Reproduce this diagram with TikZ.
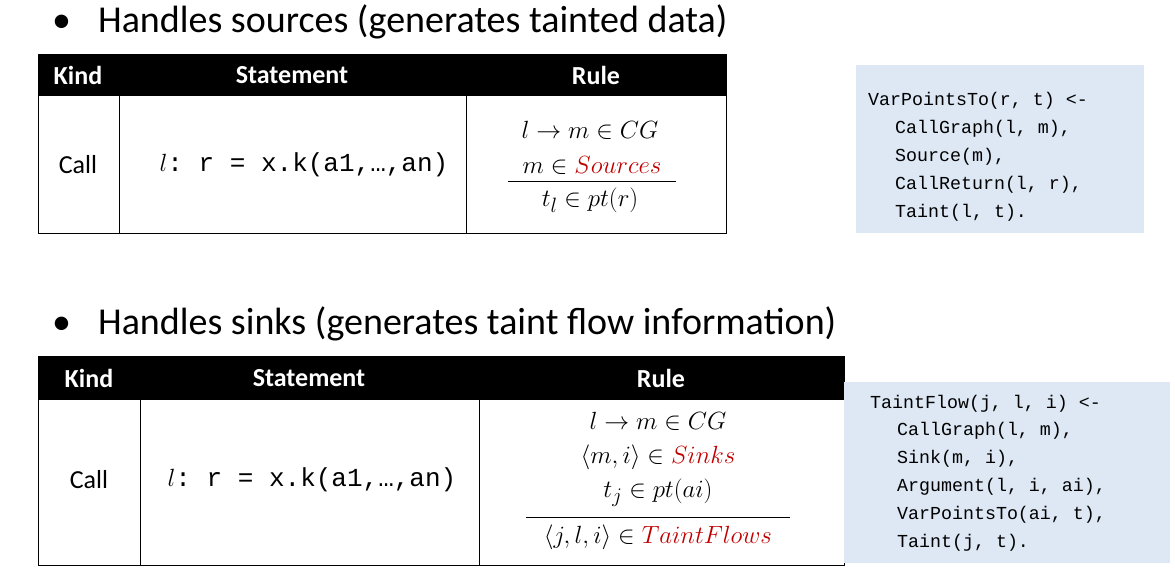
\documentclass[tikz,border=0pt]{standalone}
\usepackage{fontspec}
\usepackage{amsmath}
\setmainfont{Carlito}
\setmonofont{Liberation Mono}
\definecolor{rd}{HTML}{C00000}
\definecolor{bx}{HTML}{DDE8F4}
\begin{document}
\begin{tikzpicture}[x=1pt,y=-1pt,
 title/.style={anchor=west,font=\fontsize{38}{40}\selectfont,inner sep=0},
 hd/.style={text=white,font=\fontsize{26}{28}\selectfont\bfseries},
 cell/.style={font=\fontsize{26}{28}\selectfont},
 rl/.style={font=\fontsize{28}{30}\selectfont},
 code/.style={anchor=west,font=\fontsize{18.3}{19}\ttfamily,inner sep=0},
 grid/.style={line width=1pt}]
\useasboundingbox (0,0) rectangle (1175,576);
% titles
\node[title] (b1) at (52,22) {•\hspace{27pt}Handles sources (generates tainted data)};
\node[title] (b2) at (52,324) {•\hspace{27pt}Handles sinks (generates taint flow information)};
% table 1
\fill (38,54) rectangle (726,96);
\draw[grid] (38,54) rectangle (726,233);
\draw[grid] (119,96)--(119,233) (466,96)--(466,233);
\node[hd] (h1) at (78,75) {Kind};
\node[hd] (h2) at (292,75) {Statement};
\node[hd] (h3) at (596,75) {Rule};
\node[cell] (c1) at (78,165) {Call};
\node[cell] (s1) at (304,165) {$l$\texttt{: r = x.k(a1,…,an)}};
\node[rl] (r11) at (590,130) {$l\rightarrow m\in CG$};
\node[rl] (r12) at (592,165) {$m\in \textcolor{rd}{Sources}$};
\node[rl] (r13) at (590,200) {$t_l\in pt(r)$};
\draw[line width=1pt] (508,181)--(676,181);
\fill[bx] (856,65) rectangle (1144,233);
\node[code] (k1) at (868,101) {VarPointsTo(r, t) <-};
\node[code] (k2) at (895,129) {CallGraph(l, m),};
\node[code] (k3) at (895,157) {Source(m),};
\node[code] (k4) at (895,185) {CallReturn(l, r),};
\node[code] (k5) at (895,213) {Taint(l, t).};
% table 2
\fill (38,356) rectangle (844,400);
\draw[grid] (38,356) rectangle (844,565);
\draw[grid] (140,400)--(140,565) (479,400)--(479,565);
\node[hd] (g1) at (89,378) {Kind};
\node[hd] (g2) at (309,378) {Statement};
\node[hd] (g3) at (661,378) {Rule};
\node[cell] (d1) at (89,480) {Call};
\node[cell] (t1) at (312,480) {$l$\texttt{: r = x.k(a1,…,an)}};
\node[rl] (q1) at (658,421) {$l\rightarrow m\in CG$};
\node[rl] (q2) at (658,457) {$\langle m,i\rangle\in \textcolor{rd}{Sinks}$};
\node[rl] (q3) at (658,493) {$t_j\in pt(ai)$};
\node[rl] (q4) at (658,537) {$\langle j,l,i\rangle\in \textcolor{rd}{TaintFlows}$};
\draw[line width=1pt] (526,517)--(790,517);
\fill[bx] (844,382) rectangle (1170,563);
\node[code] (m1) at (870,404) {TaintFlow(j, l, i) <-};
\node[code] (m2) at (897,431) {CallGraph(l, m),};
\node[code] (m3) at (897,459) {Sink(m, i),};
\node[code] (m4) at (897,487) {Argument(l, i, ai),};
\node[code] (m5) at (897,515) {VarPointsTo(ai, t),};
\node[code] (m6) at (897,543) {Taint(j, t).};
\end{tikzpicture}
\end{document}
